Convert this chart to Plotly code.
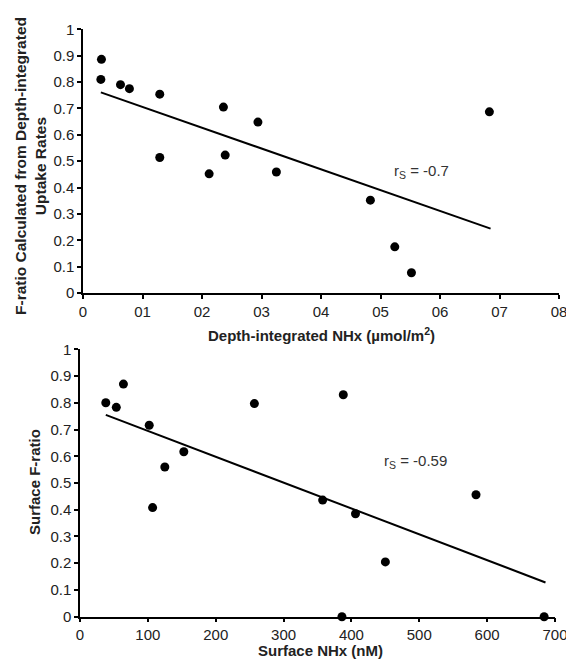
import plotly.graph_objects as go

# Top panel: depth-integrated NHx vs F-ratio
top_x = [0.031, 0.030, 0.063, 0.078, 0.129, 0.129, 0.212, 0.236, 0.239, 0.294, 0.325, 0.483, 0.524, 0.552, 0.683]
top_y = [0.886, 0.810, 0.790, 0.775, 0.754, 0.514, 0.452, 0.705, 0.523, 0.648, 0.459, 0.352, 0.175, 0.077, 0.687]
top_fit_x = [0.030, 0.685]
top_fit_y = [0.761, 0.244]
top_xtickvals = [0, 0.1, 0.2, 0.3, 0.4, 0.5, 0.6, 0.7, 0.8]
top_xticktext = ["0", "01", "02", "03", "04", "05", "06", "07", "08"]

# Bottom panel: surface NHx vs surface F-ratio
bot_x = [38, 53.5, 64, 102, 107, 125, 153, 257, 388, 357.6, 406, 450, 583.6, 386, 684]
bot_y = [0.800, 0.783, 0.870, 0.716, 0.408, 0.560, 0.617, 0.797, 0.830, 0.436, 0.385, 0.205, 0.456, 0.0, 0.0]
bot_fit_x = [38, 686]
bot_fit_y = [0.755, 0.128]
bot_xtickvals = [0, 100, 200, 300, 400, 500, 600, 700]

ytickvals = [0, 0.1, 0.2, 0.3, 0.4, 0.5, 0.6, 0.7, 0.8, 0.9, 1]
yticktext = ["0", "0.1", "0.2", "0.3", "0.4", "0.5", "0.6", "0.7", "0.8", "0.9", "1"]

FONT = "Liberation Sans, Arial, sans-serif"
OFF = 8  # page body margin
W, H = 574 - OFF, 659 - OFF

def fx(p):
    return (p - OFF) / W

def fy(p):
    return 1 - (p - OFF) / H

fig = go.Figure()

fig.add_trace(go.Scatter(x=top_fit_x, y=top_fit_y, mode="lines",
                         line=dict(color="black", width=2), xaxis="x", yaxis="y", showlegend=False))
fig.add_trace(go.Scatter(x=top_x, y=top_y, mode="markers", cliponaxis=False,
                         marker=dict(color="black", size=9), xaxis="x", yaxis="y", showlegend=False))
fig.add_trace(go.Scatter(x=bot_fit_x, y=bot_fit_y, mode="lines",
                         line=dict(color="black", width=2), xaxis="x2", yaxis="y2", showlegend=False))
fig.add_trace(go.Scatter(x=bot_x, y=bot_y, mode="markers", cliponaxis=False,
                         marker=dict(color="black", size=9), xaxis="x2", yaxis="y2", showlegend=False))

axis_common = dict(showgrid=False, zeroline=False, showline=True, linecolor="black", linewidth=1.5,
                   ticks="outside", ticklen=4, tickcolor="black", tickwidth=1.5, automargin=False,
                   tickfont=dict(family=FONT, size=15, color="#222"))

fig.update_layout(
    width=W, height=H,
    margin=dict(l=0, r=0, t=0, b=0, pad=0, autoexpand=False),
    paper_bgcolor="white", plot_bgcolor="white",
    font=dict(family=FONT, color="#222"),
    xaxis=dict(domain=[fx(83), fx(559)], range=[0, 0.8], tickvals=top_xtickvals, ticktext=top_xticktext,
               anchor="y", **axis_common),
    yaxis=dict(domain=[fy(293), fy(29.3)], range=[0, 1], tickvals=ytickvals, ticktext=yticktext,
               anchor="x", **axis_common),
    xaxis2=dict(domain=[fx(80), fx(555)], range=[0, 700], tickvals=bot_xtickvals,
                anchor="y2", **axis_common),
    yaxis2=dict(domain=[fy(616.7), fy(349.3)], range=[0, 1], tickvals=ytickvals, ticktext=yticktext,
                anchor="x2", **axis_common),
)

def paper_ann(text, px, py, angle=0, size=15):
    fig.add_annotation(text=text, xref="paper", yref="paper", x=fx(px), y=fy(py),
                       xanchor="center", yanchor="middle", showarrow=False, textangle=angle,
                       font=dict(family=FONT, size=size, color="#222"))

paper_ann("<b>Depth-integrated NHx (µmol/m<sup>2</sup>)</b>", 321, 334)
paper_ann("<b>Surface NHx (nM)</b>", 320, 650)
paper_ann("<b>F-ratio Calculated from Depth-integrated<br>Uptake Rates</b>", 30, 166, -90, 15.5)
paper_ann("<b>Surface F-ratio</b>", 35, 482, -90)

ann_font = dict(family=FONT, size=15, color="#333")
fig.add_annotation(text="r<sub>S</sub> = -0.7", xref="x", yref="y", x=0.52, y=0.46, xanchor="left",
                   yanchor="middle", showarrow=False, font=ann_font)
fig.add_annotation(text="r<sub>S</sub> = -0.59", xref="x2", yref="y2", x=445, y=0.58, xanchor="left",
                   yanchor="middle", showarrow=False, font=ann_font)

fig.write_html("out.html")
